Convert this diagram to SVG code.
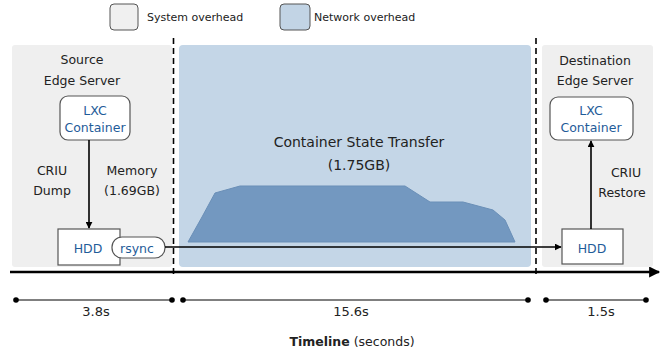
<svg xmlns="http://www.w3.org/2000/svg" width="661" height="356" viewBox="0 0 661 356">
  <style>
    text { font-family: "DejaVu Sans", "Liberation Sans", sans-serif; fill: #222; }
    .lbl { font-size: 12.5px; text-anchor: middle; }
    .blue { fill: #1f5c99; }
    .box { fill: #ffffff; stroke: #555; stroke-width: 1.2; }
    .dash { stroke: #000; stroke-width: 1.6; stroke-dasharray: 6 4; fill: none; }
    .wire { stroke: #000; stroke-width: 1.6; fill: none; }
    .seg { stroke: #000; stroke-width: 1; }
  </style>
  <defs>
    <marker id="head" viewBox="0 0 10 10" refX="9" refY="5" markerWidth="7" markerHeight="7" orient="auto" markerUnits="userSpaceOnUse">
      <path d="M0,0 L10,5 L0,10 Z" fill="#000"/>
    </marker>
    <marker id="headBig" viewBox="0 0 10 10" refX="9" refY="5" markerWidth="13" markerHeight="11" orient="auto" markerUnits="userSpaceOnUse">
      <path d="M0,0 L10,5 L0,10 Z" fill="#000"/>
    </marker>
  </defs>

  <!-- legend -->
  <g id="legend">
    <rect x="110" y="4" width="28" height="26" rx="4" fill="#f0f0f0" stroke="#555" stroke-width="1"/>
    <text x="147" y="21" font-size="11">System overhead</text>
    <rect x="280" y="4" width="30" height="26" rx="4" fill="#c2d4e5" stroke="#555" stroke-width="1"/>
    <text x="314" y="21" font-size="11">Network overhead</text>
  </g>

  <!-- phase backgrounds -->
  <g id="phases">
    <rect x="12" y="45" width="160" height="222" rx="3" fill="#efefef"/>
    <rect x="179" y="45" width="352" height="222" rx="4" fill="#c4d6e7"/>
    <rect x="542" y="45" width="111" height="222" rx="3" fill="#efefef"/>
    <path d="M188,242 L202,217 L215,193 L240,186 L405,186 L430,202 L463,202 L493,210 L505,220 L515,242 Z" fill="#7398c0" stroke="#6a8fb7" stroke-width="1"/>
  </g>

  <!-- source edge server -->
  <g id="source">
    <text class="lbl" x="82" y="64">Source</text>
    <text class="lbl" x="82" y="85">Edge Server</text>
  </g>
  <g id="src-lxc">
    <rect class="box" x="60" y="96" width="70" height="44" rx="8"/>
    <text class="lbl blue" x="95" y="115">LXC</text>
    <text class="lbl blue" x="95" y="132">Container</text>
  </g>
  <g id="src-hdd">
    <rect class="box" x="58" y="229" width="62" height="36"/>
    <text class="lbl blue" x="88" y="253">HDD</text>
  </g>
  <g id="rsync">
    <rect class="box" x="112" y="237" width="53" height="21" rx="10"/>
    <text class="lbl blue" x="137" y="253">rsync</text>
  </g>

  <!-- destination edge server -->
  <g id="destination">
    <text class="lbl" x="595" y="65">Destination</text>
    <text class="lbl" x="595" y="85">Edge Server</text>
  </g>
  <g id="dst-lxc">
    <rect class="box" x="550" y="97" width="83" height="43" rx="8"/>
    <text class="lbl blue" x="591" y="115">LXC</text>
    <text class="lbl blue" x="591" y="132">Container</text>
  </g>
  <g id="dst-hdd">
    <rect class="box" x="562" y="229" width="61" height="35"/>
    <text class="lbl blue" x="592" y="253">HDD</text>
  </g>

  <!-- transfer label -->
  <g id="transfer">
    <text x="359" y="147" font-size="14" text-anchor="middle">Container State Transfer</text>
    <text x="359" y="170" font-size="14" text-anchor="middle">(1.75GB)</text>
  </g>

  <!-- connectors -->
  <g id="connectors">
    <line class="dash" x1="173.5" y1="38" x2="173.5" y2="274"/>
    <line class="dash" x1="536" y1="38" x2="536" y2="274"/>
    <line class="wire" x1="89" y1="140" x2="89" y2="228" marker-end="url(#head)"/>
    <line class="wire" x1="591" y1="229" x2="591" y2="141" marker-end="url(#head)"/>
    <line class="wire" x1="165" y1="247" x2="561" y2="247" marker-end="url(#head)"/>
    <text class="lbl" x="52" y="175" font-size="13">CRIU</text>
    <text class="lbl" x="52" y="195" font-size="13">Dump</text>
    <text class="lbl" x="132" y="175" font-size="13">Memory</text>
    <text class="lbl" x="132" y="195" font-size="13">(1.69GB)</text>
    <text class="lbl" x="626" y="177" font-size="13">CRIU</text>
    <text class="lbl" x="622" y="197" font-size="13">Restore</text>
    <line x1="10" y1="272" x2="659" y2="272" stroke="#000" stroke-width="2.5" marker-end="url(#headBig)"/>
  </g>

  <!-- durations -->
  <g id="durations">
    <line class="seg" x1="16" y1="300" x2="172" y2="300"/>
    <line class="seg" x1="183" y1="300" x2="528" y2="300"/>
    <line class="seg" x1="546" y1="300" x2="646" y2="300"/>
    <circle cx="16" cy="300" r="2.8"/>
    <circle cx="172" cy="300" r="2.8"/>
    <circle cx="183" cy="300" r="2.8"/>
    <circle cx="528" cy="300" r="2.8"/>
    <circle cx="546" cy="300" r="2.8"/>
    <circle cx="646" cy="300" r="2.8"/>
    <text x="96" y="316" font-size="13" text-anchor="middle">3.8s</text>
    <text x="351" y="316" font-size="13" text-anchor="middle">15.6s</text>
    <text x="601" y="316" font-size="13" text-anchor="middle">1.5s</text>
    <text x="352" y="346" font-size="12.5" text-anchor="middle"><tspan font-weight="bold">Timeline</tspan> (seconds)</text>
  </g>
</svg>
